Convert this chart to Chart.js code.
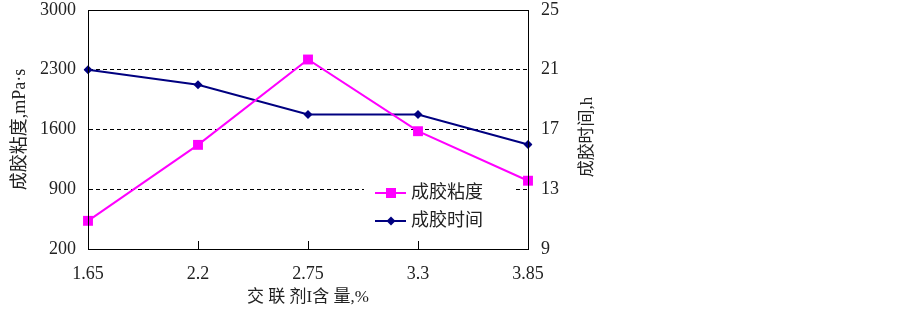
<!DOCTYPE html>
<html>
<head>
<meta charset="utf-8">
<script src="https://cdn.jsdelivr.net/npm/chart.js@4.4.1/dist/chart.umd.min.js"></script>
<style>
    html, body { margin: 0; padding: 0; background: #fff; }
    #wrap { width: 903px; height: 311px; }
</style>
</head>
<body>
<div id="wrap"><canvas id="gelChart" width="903" height="311"></canvas></div>
<script>
// Data
const doses = ['1.65', '2.2', '2.75', '3.3', '3.85'];
const viscosity = [530, 1420, 2420, 1580, 1000];   // 成胶粘度, mPa·s
const gelTime = [21, 20, 18, 18, 16];              // 成胶时间, h
const viscTicks = [200, 900, 1600, 2300, 3000];
const timeTicks = [9, 13, 17, 21, 25];

const serif = "'Liberation Serif', 'Times New Roman', serif";
// Latin parts in serif, Chinese falls back to the CJK font
const mixed = "'Liberation Serif', 'Noto Sans CJK SC', serif";

// Frame round the plot area, top line included
const framePlugin = {
    id: 'frame',
    afterDraw(chart) {
        const { ctx, chartArea: a } = chart;
        ctx.save();
        ctx.strokeStyle = '#000';
        ctx.lineWidth = 1;
        ctx.strokeRect(Math.round(a.left) + 0.5, Math.round(a.top) + 0.5,
            Math.round(a.right - a.left), Math.round(a.bottom - a.top));
        ctx.restore();
    }
};

// Legend inside the plot, with a white box over the grid line
const innerLegend = {
    id: 'innerLegend',
    afterDraw(chart) {
        const ctx = chart.ctx;
        ctx.save();
        ctx.fillStyle = '#fff';
        ctx.fillRect(364, 178, 149, 58);
        chart.data.datasets.forEach(function(ds, i) {
            const y = 193 + i * 28;
            ctx.strokeStyle = ds.borderColor;
            ctx.lineWidth = 2;
            ctx.beginPath();
            ctx.moveTo(375, y);
            ctx.lineTo(406, y);
            ctx.stroke();
            ctx.fillStyle = ds.borderColor;
            ctx.beginPath();
            if (ds.pointStyle === 'rect') {
                ctx.rect(386, y - 5, 10, 10);
            } else {
                ctx.moveTo(391, y - 4.5);
                ctx.lineTo(395.5, y);
                ctx.lineTo(391, y + 4.5);
                ctx.lineTo(386.5, y);
                ctx.closePath();
            }
            ctx.fill();
            ctx.fillStyle = '#222';
            ctx.font = '18px ' + mixed;
            ctx.textBaseline = 'middle';
            ctx.textAlign = 'left';
            ctx.fillText(ds.label, 411, y);
        });
        ctx.restore();
    }
};

// Right axis title reads bottom to top, like the left one
const rightTitle = {
    id: 'rightTitle',
    afterDraw(chart) {
        const ctx = chart.ctx;
        ctx.save();
        ctx.translate(588, 137);
        ctx.rotate(-Math.PI / 2);
        ctx.fillStyle = '#222';
        ctx.font = '17px ' + mixed;
        ctx.textAlign = 'center';
        ctx.textBaseline = 'middle';
        ctx.fillText('成胶时间,h', 0, 0);
        ctx.restore();
    }
};

// keep the y axes from pushing the plot area down
function fixVertical(width) {
    return function(scale) {
        scale.width = width;
        scale.paddingTop = 0;
        scale.paddingBottom = 0;
    };
}

new Chart(document.getElementById('gelChart'), {
    type: 'line',
    data: {
        labels: doses,
        datasets: [{
            label: '成胶粘度',
            data: viscosity,
            yAxisID: 'y',
            borderColor: '#ff00ff',
            backgroundColor: '#ff00ff',
            borderWidth: 2,
            pointStyle: 'rect',
            pointRadius: 7,
            pointBorderWidth: 0,
            tension: 0
        }, {
            label: '成胶时间',
            data: gelTime,
            yAxisID: 'y1',
            borderColor: '#000080',
            backgroundColor: '#000080',
            borderWidth: 2,
            pointStyle: 'rectRot',
            pointRadius: 4.5,
            pointBorderWidth: 0,
            tension: 0
        }]
    },
    options: {
        responsive: false,
        animation: false,
        layout: { padding: { top: 10, right: 300, left: 0, bottom: 0 } },
        plugins: {
            legend: { display: false },
            tooltip: { enabled: false }
        },
        scales: {
            x: {
                type: 'category',
                offset: false,
                grid: {
                    drawOnChartArea: false,
                    color: '#000',
                    tickLength: -8
                },
                border: { color: '#000' },
                ticks: {
                    color: '#222',
                    font: { family: serif, size: 18 },
                    padding: 22,
                    maxRotation: 0
                },
                title: {
                    display: true,
                    text: '交 联 剂I含 量,%',
                    color: '#222',
                    font: { family: mixed, size: 17 },
                    padding: { top: 0, bottom: 3 }
                },
                afterFit: function(scale) { scale.height = 62; }
            },
            y: {
                position: 'left',
                min: 200,
                max: 3000,
                afterBuildTicks: function(scale) {
                    scale.ticks = viscTicks.map(v => ({ value: v }));
                },
                grid: {
                    color: '#000',
                    drawTicks: false
                },
                border: { color: '#000', dash: [4, 3] },
                ticks: {
                    color: '#222',
                    font: { family: serif, size: 18 },
                    padding: 12,
                    callback: v => String(v)
                },
                title: {
                    display: true,
                    text: '成胶粘度,mPa·s',
                    color: '#222',
                    font: { family: mixed, size: 18 },
                    padding: { top: 9, bottom: 0 }
                },
                afterFit: fixVertical(88)
            },
            y1: {
                position: 'right',
                min: 9,
                max: 25,
                afterBuildTicks: function(scale) {
                    scale.ticks = timeTicks.map(v => ({ value: v }));
                },
                grid: { drawOnChartArea: false, drawTicks: false },
                border: { color: '#000' },
                ticks: {
                    color: '#222',
                    font: { family: serif, size: 18 },
                    padding: 13,
                    callback: v => String(v)
                },
                afterFit: fixVertical(75)
            }
        }
    },
    plugins: [framePlugin, innerLegend, rightTitle]
});
</script>
</body>
</html>
